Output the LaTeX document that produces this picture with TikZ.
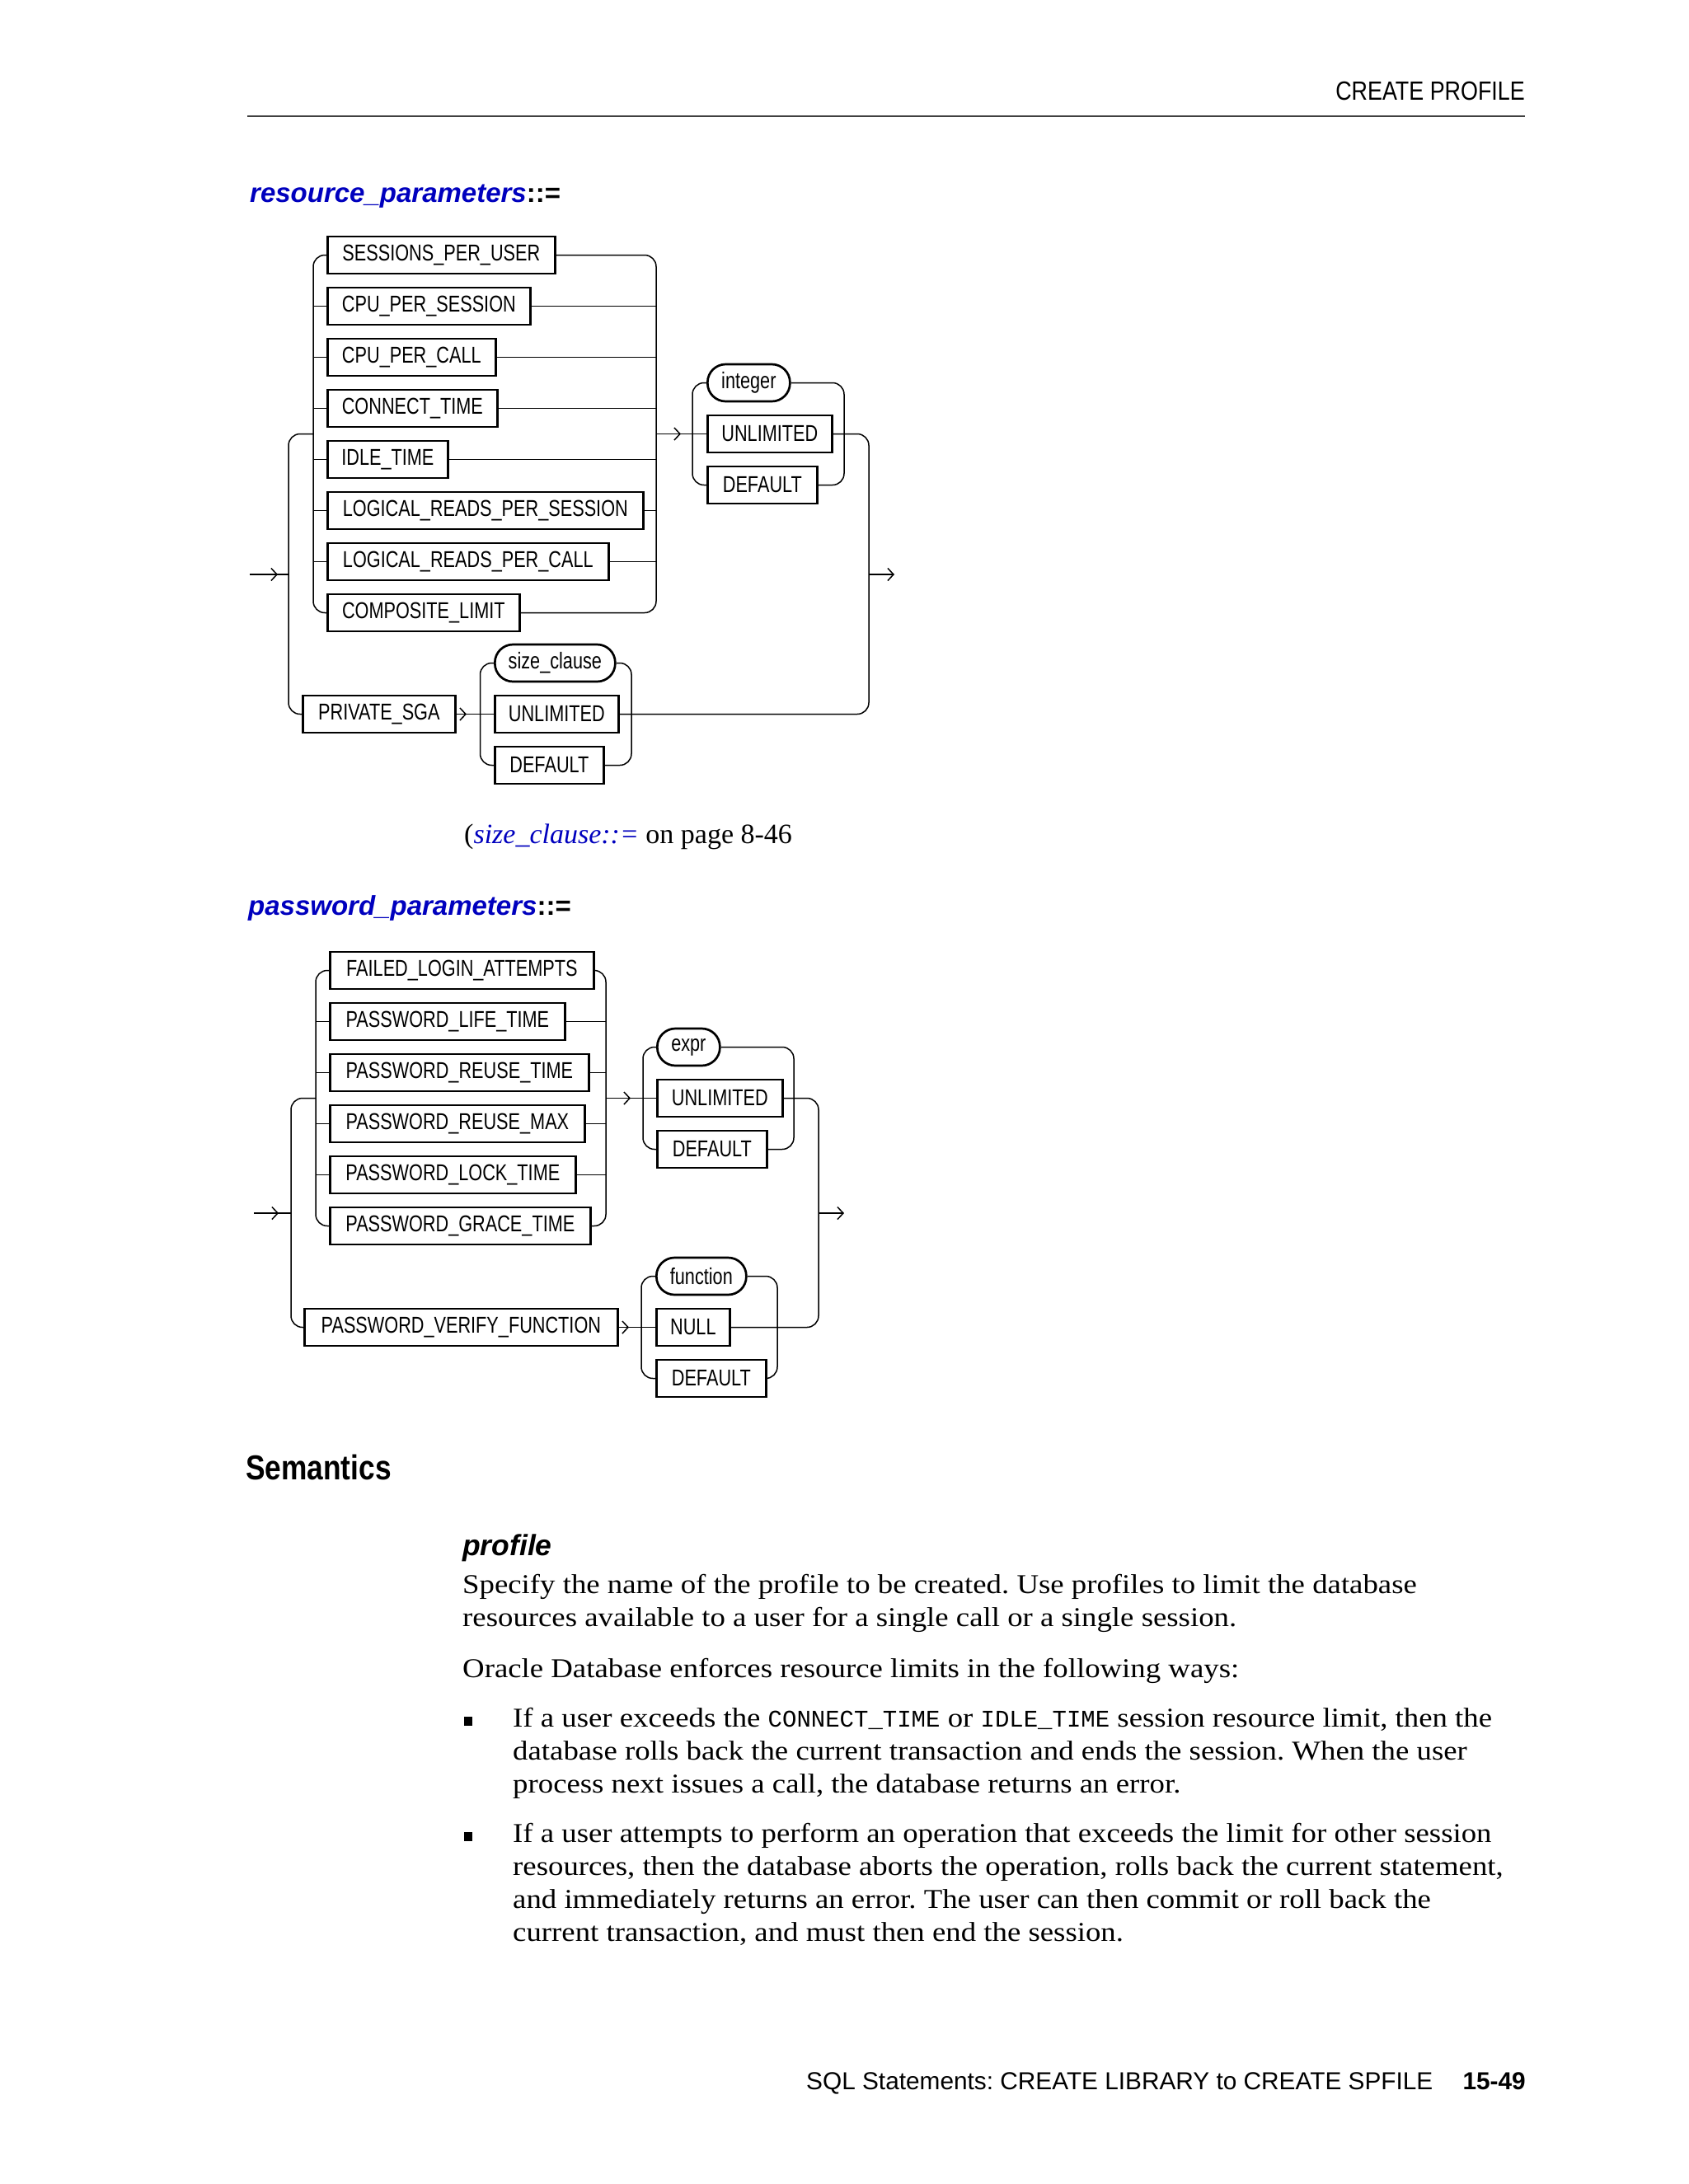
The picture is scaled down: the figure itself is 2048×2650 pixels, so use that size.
\documentclass[tikz,border=0pt]{standalone}
\usepackage{fontspec}
\usetikzlibrary{arrows.meta}
\setmainfont{Liberation Serif}
\newfontfamily\condf{Liberation Sans}[FakeStretch=0.78]
\newfontfamily\headf{Liberation Sans}[FakeStretch=0.84]
\newfontfamily\sansf{Liberation Sans}
\newfontfamily\monof{Liberation Mono}
\newfontfamily\bodyf{Liberation Serif}[FakeStretch=1.115]
\definecolor{oblue}{RGB}{0,0,190}
\frenchspacing
\tikzset{
  kw/.style={draw, line width=2.7pt, minimum height=45pt, inner sep=0pt, anchor=west,
    font=\condf\fontsize{27.8}{30}\selectfont},
  ov/.style={kw, rounded corners=22pt},
  rail/.style={line width=1.5pt, rounded corners=14pt},
  arr/.style={line width=1.5pt, -{Straight Barb[length=7pt,width=15pt]}},
  body/.style={anchor=base west, inner sep=0pt, font=\bodyf\fontsize{33}{40}\selectfont},
  bul/.style={fill=black, minimum width=10pt, minimum height=11pt, inner sep=0pt, anchor=south west},
}
\newcommand{\mono}[1]{{\monof\fontsize{29}{40}\selectfont #1}}
\begin{document}
\begin{tikzpicture}[x=1pt,y=-1pt]
\fill[white] (0,0) rectangle (2048,2650);
\useasboundingbox (0,0) rectangle (2048,2650);

% ---------- header ----------
\node[anchor=base east, inner sep=0pt, font=\headf\fontsize{32}{38}\selectfont] (hd) at (1850,121) {CREATE PROFILE};
\coordinate (hl) at (300,141);
\coordinate (hr) at (1850,141);
\draw[line width=2pt, black!75] (hl) -- (hr);

% ---------- resource_parameters ----------
\node[anchor=base west, inner sep=0pt, font=\sansf\bfseries\fontsize{33}{40}\selectfont] (h1) at (303,245)
  {\textcolor{oblue}{\itshape resource\_parameters}::=};

\node[kw, minimum width=276pt] (s1) at (396,309.5) {SESSIONS\_PER\_USER};
\node[kw, minimum width=246pt] (s2) at (396,371.5) {CPU\_PER\_SESSION};
\node[kw, minimum width=204pt] (s3) at (396,433.5) {CPU\_PER\_CALL};
\node[kw, minimum width=206pt] (s4) at (396,495.5) {CONNECT\_TIME};
\node[kw, minimum width=146pt] (s5) at (396,557.5) {IDLE\_TIME};
\node[kw, minimum width=383pt] (s6) at (396,619.5) {LOGICAL\_READS\_PER\_SESSION};
\node[kw, minimum width=341pt] (s7) at (396,681.5) {LOGICAL\_READS\_PER\_CALL};
\node[kw, minimum width=233pt] (s8) at (396,743.5) {COMPOSITE\_LIMIT};

\node[ov, minimum width=100pt] (i1) at (857,464.5) {integer};
\node[kw, minimum width=151pt] (u1) at (857,526.5) {UNLIMITED};
\node[kw, minimum width=133pt] (d1) at (857,588.5) {DEFAULT};

\node[kw, minimum width=185pt] (psga) at (366,866.5) {PRIVATE\_SGA};
\node[ov, minimum width=146pt] (sc) at (599,804.5) {size\_clause};
\node[kw, minimum width=150pt] (u2) at (599,866.5) {UNLIMITED};
\node[kw, minimum width=132pt] (d2) at (599,928.5) {DEFAULT};

\coordinate (rin) at (303,697);
\coordinate (rA) at (337,697);
\coordinate (rM) at (350,697);
\coordinate (rJ) at (380,526.5);
\coordinate (rL) at (380,0);
\coordinate (rR) at (796,0);
\coordinate (aR1) at (826,0);
\coordinate (gL1) at (840,0);
\coordinate (gR1) at (1024,0);
\coordinate (oR) at (1054,0);
\coordinate (rout0) at (1054,697);
\coordinate (rout) at (1085,697);
\coordinate (aR2) at (566,0);
\coordinate (gL2) at (582.5,0);
\coordinate (gR2) at (766,0);

% entry
\draw[rail] (rin) -- (rM);
\draw[arr] (rin) -- (rA);
% main rail
\draw[rail] (rJ) -- (rJ -| rM) -- (psga.west -| rM) -- (psga.west);
% inner choice
\draw[rail] (s1.west) -- (s1.west -| rL) -- (s8.west -| rL) -- (s8.west);
\draw[rail] (s1.east) -- (s1.east -| rR) -- (s8.east -| rR) -- (s8.east);
\foreach \n in {s2,s3,s4,s5,s6,s7}{
  \draw[rail] (\n.west -| rL) -- (\n.west);
  \draw[rail] (\n.east) -- (\n.east -| rR);
}
% to value group
\draw[rail] (u1.west -| rR) -- (u1.west);
\draw[arr] (u1.west -| rR) -- (u1.west -| aR1);
\draw[rail] (i1.west) -- (i1.west -| gL1) -- (d1.west -| gL1) -- (d1.west);
\draw[rail] (i1.east) -- (i1.east -| gR1) -- (d1.east -| gR1) -- (d1.east);
% outer right rail
\draw[rail] (u1.east) -- (u1.east -| oR) -- (u2.east -| oR) -- (u2.east);
\draw[arr] (rout0) -- (rout);
% private sga
\draw[rail] (psga.east) -- (u2.west);
\draw[arr] (psga.east) -- (u2.west -| aR2);
\draw[rail] (sc.west) -- (sc.west -| gL2) -- (d2.west -| gL2) -- (d2.west);
\draw[rail] (sc.east) -- (sc.east -| gR2) -- (d2.east -| gR2) -- (d2.east);

\node[anchor=base west, inner sep=0pt, font=\fontsize{34}{40}\selectfont] (cap) at (563,1023)
  {(\textcolor{oblue}{\itshape size\_clause::=} on page 8-46};

% ---------- password_parameters ----------
\node[anchor=base west, inner sep=0pt, font=\sansf\bfseries\fontsize{33}{40}\selectfont] (h2) at (301,1110)
  {\textcolor{oblue}{\itshape password\_parameters}::=};

\node[kw, minimum width=320pt] (p1) at (399,1177.5) {FAILED\_LOGIN\_ATTEMPTS};
\node[kw, minimum width=285pt] (p2) at (399,1239.5) {PASSWORD\_LIFE\_TIME};
\node[kw, minimum width=314pt] (p3) at (399,1301.5) {PASSWORD\_REUSE\_TIME};
\node[kw, minimum width=309pt] (p4) at (399,1363.5) {PASSWORD\_REUSE\_MAX};
\node[kw, minimum width=298pt] (p5) at (399,1425.5) {PASSWORD\_LOCK\_TIME};
\node[kw, minimum width=316pt] (p6) at (399,1487.5) {PASSWORD\_GRACE\_TIME};

\node[ov, minimum width=76pt] (e1) at (796,1270.5) {expr};
\node[kw, minimum width=152pt] (u3) at (796,1332.5) {UNLIMITED};
\node[kw, minimum width=133pt] (d3) at (796,1394.5) {DEFAULT};

\node[kw, minimum width=380pt] (pvf) at (368,1610.5) {PASSWORD\_VERIFY\_FUNCTION};
\node[ov, minimum width=109pt] (f1) at (795,1548.5) {function};
\node[kw, minimum width=89pt] (n1) at (795,1610.5) {NULL};
\node[kw, minimum width=133pt] (d4) at (795,1672.5) {DEFAULT};

\coordinate (pin) at (308,1472);
\coordinate (pA) at (338,1472);
\coordinate (pM) at (353,1472);
\coordinate (pJ) at (383,1332.5);
\coordinate (pL) at (383,0);
\coordinate (pR) at (735,0);
\coordinate (aP1) at (765,0);
\coordinate (gL3) at (780,0);
\coordinate (gR3) at (963,0);
\coordinate (oP) at (993,0);
\coordinate (pout0) at (993,1472);
\coordinate (pout) at (1024,1472);
\coordinate (aP2) at (763,0);
\coordinate (gL4) at (778,0);
\coordinate (gR4) at (943,0);

\draw[rail] (pin) -- (pM);
\draw[arr] (pin) -- (pA);
\draw[rail] (pJ) -- (pJ -| pM) -- (pvf.west -| pM) -- (pvf.west);
\draw[rail] (p1.west) -- (p1.west -| pL) -- (p6.west -| pL) -- (p6.west);
\draw[rail] (p1.east) -- (p1.east -| pR) -- (p6.east -| pR) -- (p6.east);
\foreach \n in {p2,p3,p4,p5}{
  \draw[rail] (\n.west -| pL) -- (\n.west);
  \draw[rail] (\n.east) -- (\n.east -| pR);
}
\draw[rail] (u3.west -| pR) -- (u3.west);
\draw[arr] (u3.west -| pR) -- (u3.west -| aP1);
\draw[rail] (e1.west) -- (e1.west -| gL3) -- (d3.west -| gL3) -- (d3.west);
\draw[rail] (e1.east) -- (e1.east -| gR3) -- (d3.east -| gR3) -- (d3.east);
\draw[rail] (u3.east) -- (u3.east -| oP) -- (n1.east -| oP) -- (n1.east);
\draw[arr] (pout0) -- (pout);
\draw[rail] (pvf.east) -- (n1.west);
\draw[arr] (pvf.east) -- (n1.west -| aP2);
\draw[rail] (f1.west) -- (f1.west -| gL4) -- (d4.west -| gL4) -- (d4.west);
\draw[rail] (f1.east) -- (f1.east -| gR4) -- (d4.east -| gR4) -- (d4.east);

% ---------- Semantics ----------
\node[anchor=base west, inner sep=0pt, font=\headf\bfseries\fontsize{42}{48}\selectfont] (sem) at (298,1795) {Semantics};
\node[anchor=base west, inner sep=0pt, font=\sansf\bfseries\itshape\fontsize{35.5}{40}\selectfont] (prof) at (561,1887) {profile};

\node[body] (t1) at (561,1933) {Specify the name of the profile to be created. Use profiles to limit the database};
\node[body] (t2) at (561,1973) {resources available to a user for a single call or a single session.};
\node[body] (t3) at (561,2035) {Oracle Database enforces resource limits in the following ways:};

\node[bul] (bl1) at (563,2094) {};
\node[body] (t4) at (622,2095) {If a user exceeds the \mono{CONNECT\_TIME} or \mono{IDLE\_TIME} session resource limit, then the};
\node[body] (t5) at (622,2135) {database rolls back the current transaction and ends the session. When the user};
\node[body] (t6) at (622,2175) {process next issues a call, the database returns an error.};

\node[bul] (bl2) at (563,2234) {};
\node[body] (t7) at (622,2235) {If a user attempts to perform an operation that exceeds the limit for other session};
\node[body] (t8) at (622,2275) {resources, then the database aborts the operation, rolls back the current statement,};
\node[body] (t9) at (622,2315) {and immediately returns an error. The user can then commit or roll back the};
\node[body] (t10) at (622,2355) {current transaction, and must then end the session.};

% ---------- footer ----------
\node[anchor=base west, inner sep=0pt, font=\sansf\fontsize{29.8}{36}\selectfont] (foot) at (978,2535) {SQL Statements: CREATE LIBRARY to CREATE SPFILE};
\node[anchor=base east, inner sep=0pt, font=\sansf\bfseries\fontsize{29.8}{36}\selectfont] (pg) at (1851,2535) {15-49};
\end{tikzpicture}
\end{document}
